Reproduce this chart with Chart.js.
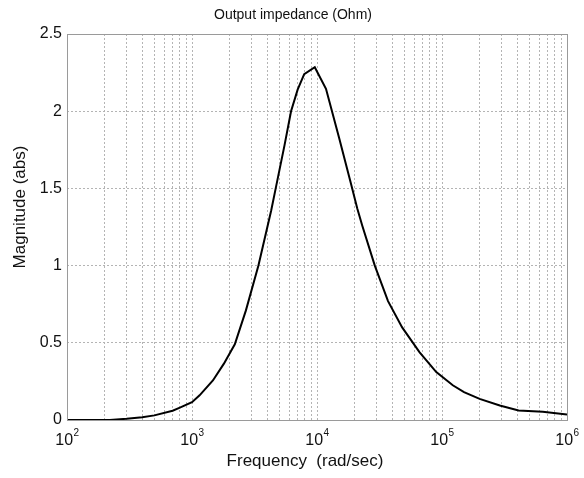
<!DOCTYPE html>
<html>
<head>
<meta charset="utf-8">
<script src="https://cdn.jsdelivr.net/npm/chart.js@4/dist/chart.umd.min.js"></script>
<style>
  html, body { margin: 0; padding: 0; background: #fff; }
</style>
</head>
<body>
<canvas id="chartImpedance" width="584" height="478"></canvas>
<script>
// frecuencia (rad/sec) y magnitud
const freqs = [100, 150, 220, 300, 400, 500, 700, 800, 1000,
    1150, 1470, 1800, 2200, 2700, 3400, 4300, 4700, 5500, 6200,
    7000, 7900, 9600, 11800, 15000, 18700, 21000, 23000, 29000, 37000,
    48000, 66000, 90000, 122000, 150000, 200000, 290000, 410000, 640000, 1000000];
const magnitude = [0, 0, 0, 0.008, 0.018, 0.03, 0.06, 0.08, 0.115,
    0.16, 0.256, 0.365, 0.49, 0.71, 1.0, 1.357, 1.51, 1.78, 2.0,
    2.14, 2.24, 2.285, 2.145, 1.83, 1.53, 1.37, 1.26, 1.0, 0.77,
    0.6, 0.44, 0.31, 0.225, 0.181, 0.137, 0.094, 0.062, 0.053, 0.036];
const decades = [100, 1000, 10000, 100000, 1000000];
const exponents = ['2', '3', '4', '5', '6'];
const yTicks = [0, 0.5, 1, 1.5, 2, 2.5];

const TITLE = 'Output impedance (Ohm)';
const X_TITLE = 'Frequency  (rad/sec)';
const Y_TITLE = 'Magnitude (abs)';

const FONT = "'Liberation Sans', Arial, sans-serif";
const GRID = '#b4b4b4';
const TEXT = '#111';

// caja completa, etiquetas 10^n y titulos (estilo MATLAB)
const matlabLook = {
    id: 'matlabLook',
    afterDraw(chart) {
        const { ctx, chartArea: a } = chart;
        const xs = chart.scales.x;
        ctx.save();
        ctx.strokeStyle = '#9a9a9a';
        ctx.lineWidth = 1;
        ctx.strokeRect(a.left + 0.5, a.top + 0.5, a.right - a.left, a.bottom - a.top);

        ctx.fillStyle = TEXT;
        ctx.textBaseline = 'alphabetic';
        ctx.textAlign = 'left';
        decades.forEach((d, i) => {
            const px = xs.getPixelForValue(d);
            ctx.font = '16px ' + FONT;
            const wBase = ctx.measureText('10').width;
            ctx.font = '10px ' + FONT;
            const wExp = ctx.measureText(exponents[i]).width;
            const x0 = px - (wBase + wExp) / 2;
            ctx.font = '16px ' + FONT;
            ctx.fillText('10', x0, a.bottom + 25);
            ctx.font = '10px ' + FONT;
            ctx.fillText(exponents[i], x0 + wBase + 0.5, a.bottom + 16);
        });

        ctx.textAlign = 'center';
        ctx.font = '14px ' + FONT;
        ctx.fillText(TITLE, 293, 19);
        ctx.font = '17px ' + FONT;
        ctx.fillText(X_TITLE, 305, 466);
        ctx.translate(25, 207);
        ctx.rotate(-Math.PI / 2);
        ctx.fillText(Y_TITLE, 0, 0);
        ctx.restore();
    }
};

function logTicks() {
    const out = [];
    for (let d = 100; d < 1000000; d *= 10) {
        for (let m = 1; m < 10; m++) out.push({ value: d * m });
    }
    out.push({ value: 1000000 });
    return out;
}

new Chart(document.getElementById('chartImpedance'), {
    type: 'line',
    data: {
        datasets: [{
            data: freqs.map((f, i) => ({ x: f, y: magnitude[i] })),
            borderColor: '#000',
            borderWidth: 2,
            pointRadius: 0,
            tension: 0,
            fill: false
        }]
    },
    options: {
        responsive: false,
        animation: false,
        devicePixelRatio: 1,
        layout: { padding: { left: 0, right: 17, top: 34, bottom: 0 } },
        plugins: {
            legend: { display: false },
            tooltip: { enabled: false },
            title: { display: false }
        },
        scales: {
            x: {
                type: 'logarithmic',
                min: 100,
                max: 1000000,
                afterBuildTicks: s => { s.ticks = logTicks(); },
                afterFit: s => { s.height = 58; },
                grid: { color: GRID, drawTicks: false },
                border: { display: false, dash: [2, 2] },
                ticks: {
                    autoSkip: false,
                    maxRotation: 0,
                    padding: 8,
                    font: { family: FONT, size: 15 },
                    callback: () => ''
                }
            },
            y: {
                min: 0,
                max: 2.5,
                afterBuildTicks: s => { s.ticks = yTicks.map(v => ({ value: v })); },
                afterFit: s => { s.width = 67; },
                grid: { color: GRID, drawTicks: false },
                border: { display: false, dash: [2, 2] },
                ticks: {
                    autoSkip: false,
                    padding: 5,
                    color: TEXT,
                    font: { family: FONT, size: 16 },
                    callback: v => String(v)
                }
            }
        }
    },
    plugins: [matlabLook]
});
</script>
</body>
</html>
